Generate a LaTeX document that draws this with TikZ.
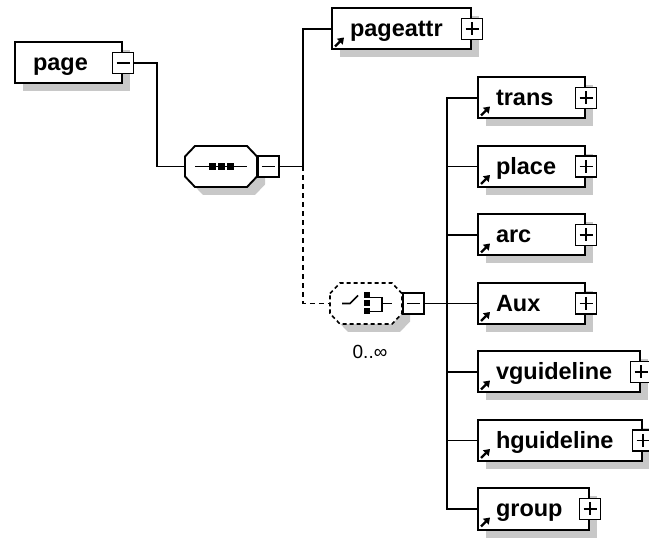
\documentclass[tikz,border=0pt]{standalone}
\usepackage{fontspec}
\setmainfont{Liberation Sans}
\usepackage{tikz}
\usetikzlibrary{calc, positioning, arrows.meta, shadows}
\usepackage{xcolor}
\definecolor{shadowgray}{RGB}{200, 200, 200}
\newcommand{\octpath}[1]{%
  ($(#1.west)+(0,10pt)$) -- ($(#1.north west)+(10pt,0)$)
  -- ($(#1.north east)+(-10pt,0)$) -- ($(#1.east)+(0,10pt)$)
  -- ($(#1.east)+(0,-10pt)$) -- ($(#1.south east)+(-10pt,0)$)
  -- ($(#1.south west)+(10pt,0)$) -- ($(#1.west)+(0,-10pt)$) -- cycle}

\tikzset{
  boxshadow/.style={drop shadow={shadow xshift=8pt, shadow yshift=-8pt,
      opacity=1, fill=shadowgray}},
  elem/.style={draw, fill=white, line width=2pt, anchor=west,
    inner xsep=18pt, inner ysep=0pt, minimum height=41pt, align=left,
    text width=#1, text height=18pt, text depth=2pt,
    font=\fontsize{23.5}{26}\selectfont\bfseries, boxshadow},
  grpnode/.style={minimum width=72pt, minimum height=41pt,
    inner sep=0pt, outer sep=0pt},
  signbox/.style={draw, fill=white, line width=1.8pt, minimum size=21pt,
    inner sep=0pt},
  minusbox/.style={signbox, path picture={
      \draw[line width=1.6pt] ($(path picture bounding box.west)+(4pt,0)$)
        -- ($(path picture bounding box.east)+(-4pt,0)$);}},
  plusbox/.style={signbox, path picture={
      \draw[line width=1.6pt] ($(path picture bounding box.west)+(4pt,0)$)
        -- ($(path picture bounding box.east)+(-4pt,0)$);
      \draw[line width=1.6pt] ($(path picture bounding box.north)+(0,-4pt)$)
        -- ($(path picture bounding box.south)+(0,4pt)$);}},
  refarrow/.style={line width=2.4pt, -{Triangle[length=6pt, width=8pt]}},
  conn/.style={line width=1.9pt},
  optconn/.style={conn, dash pattern=on 5pt off 4pt},
}

\begin{document}
\begin{tikzpicture}[x=1pt, y=-1pt]
  \useasboundingbox (0,0) rectangle (649,540);

  % Root element
  \node[elem=71pt] (page) at (14,63) {page};
  \node[minusbox] (page-x) at (page.east) {};

  % Sequence compositor
  \node[grpnode] (seq) at (221,166.5) {};
  \draw[conn, fill=white, boxshadow] \octpath{seq};
  \draw[line width=1.6pt] ($(seq.center)+(-26pt,0)$) -- ($(seq.center)+(26pt,0)$);
  \foreach \dx in {-9,0,9}
    \fill ($(seq.center)+(\dx pt,0)$) +(-3.5pt,-3.5pt) rectangle +(3.5pt,3.5pt);
  \node[minusbox, anchor=west] (seq-x) at (seq.east) {};

  % pageattr
  \node[elem=103pt] (pageattr) at (331,29) {pageattr};
  \node[plusbox] (pageattr-x) at (pageattr.east) {};
  \draw[refarrow] ($(pageattr.south west)+(4pt,4pt)$) -- ++(9pt,9pt);

  % Choice compositor (optional, 0..oo)
  \node[grpnode] (choice) at (366,303.5) {};
  \draw[line width=1.6pt, dash pattern=on 4pt off 3pt, fill=white, boxshadow]
    \octpath{choice};
  \draw[line width=1.6pt] ($(choice.center)+(-24pt,0)$) -- ++(8pt,0) -- ++(8pt,8pt);
  \foreach \dy in {-8,0,8}
    \fill ($(choice.center)+(1pt,\dy pt)$) +(-3pt,-3pt) rectangle +(3pt,3pt);
  \draw[line width=1.6pt] ($(choice.center)+(4pt,6pt)$) -| ($(choice.center)+(16pt,-8pt)$)
    -- ++(-12pt,0);
  \draw[line width=1.6pt] ($(choice.center)+(16pt,0)$) -- ++(10pt,0);
  \node[minusbox, anchor=west] (choice-x) at (choice.east) {};
  \node[font=\fontsize{19}{22}\selectfont] (card) at (370,352) {0..∞};

  % Connectors
  \draw[conn] (page-x.east) -- ++(23,0) |- (seq.west);
  \draw[conn] (seq-x.east) -- ++(23,0) coordinate (bus) |- (pageattr.west);
  \draw[optconn] (bus) |- (choice.west);
  \draw[conn] (choice-x.east) -- ++(22,0) coordinate (cbus);

  % Children of the choice
  \foreach \nm/\tw [count=\i from 0] in {trans/71pt, place/71pt, arc/71pt,
      Aux/71pt, vguideline/126pt, hguideline/128pt, group/75pt} {
    \node[elem=\tw] (\nm) at (477, 98+68.5*\i) {\nm};
    \node[plusbox] (\nm-x) at (\nm.east) {};
    \draw[refarrow] ($(\nm.south west)+(4pt,4pt)$) -- ++(9pt,9pt);
    \draw[conn] (cbus) |- (\nm.west);
  }
\end{tikzpicture}
\end{document}
